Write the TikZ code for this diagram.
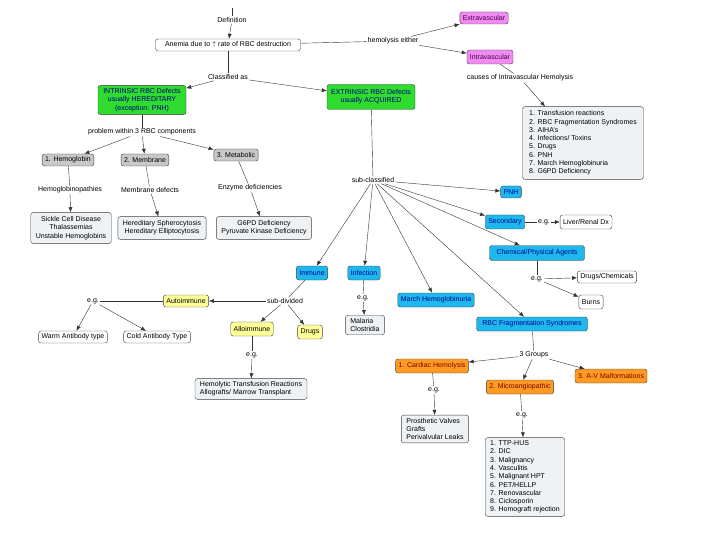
\documentclass[tikz,border=0pt]{standalone}
\usepackage{fontspec}
\setmainfont{Liberation Sans}
\usepackage{xcolor}
\usetikzlibrary{arrows.meta, positioning}

\definecolor{violetfill}{HTML}{F08CF0}
\definecolor{greenfill}{HTML}{2EDB2E}
\definecolor{cyanfill}{HTML}{1EB8EC}
\definecolor{grayfill}{HTML}{C8C8C8}
\definecolor{yellowfill}{HTML}{FFFF99}
\definecolor{orangefill}{HTML}{FF9A22}
\definecolor{listfill}{HTML}{EEF2F5}

\begin{document}
\begin{tikzpicture}[x=1pt, y=-1pt,
  box/.style={draw=black!75, rounded corners=2.5pt, font=\fontsize{7}{8.3}\selectfont, inner xsep=3pt, inner ysep=2pt, minimum height=12pt, align=center, fill=white},
  listbox/.style={box, fill=listfill, align=left, inner xsep=5pt, inner ysep=4pt},
  violetbox/.style={box, fill=violetfill, text=violet!60!black},
  greenbox/.style={box, fill=greenfill, text=blue!50!black, inner ysep=3pt},
  cyanbox/.style={box, fill=cyanfill, text=blue!60!black},
  graybox/.style={box, fill=grayfill},
  yellowbox/.style={box, fill=yellowfill},
  orangebox/.style={box, fill=orangefill, text=red!50!black},
  link/.style={font=\fontsize{7}{8.3}\selectfont, inner sep=1pt, fill=white},
  line/.style={black!80, thin},
  arrow/.style={black!80, thin, -{Latex[length=5pt, width=4pt]}}
]
\useasboundingbox (0,0) rectangle (720,540);

% top
\coordinate (title) at (232,8);
\node[link] (defn) at (232,20) {Definition};
\node[box, minimum width=145pt] (anemia) at (228,45) {Anemia due to $\uparrow$ rate of RBC destruction};
\node[link] (hemo) at (393,41) {hemolysis either};
\node[violetbox] (extra) at (484,18) {Extravascular};
\node[violetbox, minimum height=14pt] (intra) at (490,57) {Intravascular};
\node[link] (causes) at (520,78) {causes of Intravascular Hemolysis};
\node[listbox, minimum width=121pt] (intralist) at (583,143) {1. Transfusion reactions\\2. RBC Fragmentation Syndromes\\3. AIHA's\\4. Infections/ Toxins\\5. Drugs\\6. PNH\\7. March Hemoglobinuria\\8. G6PD Deficiency};

\draw[line] (title) -- (defn);
\draw[arrow] (defn) -- (anemia);
\draw[line] (anemia) -- (hemo);
\draw[arrow] (hemo) -- (extra);
\draw[arrow] (hemo) -- (intra);
\draw[line] (intra) -- (causes);
\draw[arrow] (causes) -- (intralist.north west -| 545,0);

% intrinsic
\node[link] (classified) at (228,77) {Classified as};
\node[greenbox, minimum width=88pt] (intrinsic) at (142,100) {INTRINSIC RBC Defects\\usually HEREDITARY\\(exception: PNH)};
\node[greenbox, minimum width=88pt, minimum height=25pt] (extrinsic) at (371,97) {EXTRINSIC RBC Defects\\usually ACQUIRED};
\node[link] (problem) at (142,132) {problem within 3 RBC components};
\node[graybox] (hb) at (68,160) {1. Hemoglobin};
\node[graybox] (mem) at (145,160) {2. Membrane};
\node[graybox] (met) at (236,155) {3. Metabolic};
\node[link] (hbpath) at (70,190) {Hemoglobinopathies};
\node[link] (memdef) at (150,190) {Membrane defects};
\node[link] (enz) at (250,188) {Enzyme deficiencies};
\node[listbox, align=center] (hblist) at (71,228) {Sickle Cell Disease\\Thalassemias\\Unstable Hemoglobins};
\node[listbox, align=center] (memlist) at (162,228) {Hereditary Spherocytosis\\Hereditary Elliptocytosis};
\node[listbox, align=center] (metlist) at (264,228) {G6PD Deficiency\\Pyruvate Kinase Deficiency};

\draw[line] (anemia) -- (classified);
\draw[arrow] (classified) -- (intrinsic);
\draw[arrow] (classified) -- (extrinsic);
\draw[line] (intrinsic) -- (problem);
\draw[arrow] (problem) -- (hb);
\draw[arrow] (problem) -- (mem);
\draw[arrow] (problem) -- (met);
\draw[line] (hb) -- (hbpath);
\draw[arrow] (hbpath) -- (hblist);
\draw[line] (mem) -- (memdef);
\draw[arrow] (memdef) -- (memlist);
\draw[line] (met) -- (enz);
\draw[arrow] (enz) -- (metlist);

% extrinsic
\node[link] (subcl) at (373,180) {sub-classified};
\node[cyanbox] (pnh) at (511,192) {PNH};
\node[cyanbox, minimum height=14pt] (second) at (505,222) {Secondary};
\node[link] (eg1) at (544,222) {e.g.};
\node[box, minimum height=14pt] (liver) at (586,222) {Liver/Renal Dx};
\node[cyanbox, minimum height=15pt, minimum width=95pt] (chem) at (537,253) {Chemical/Physical Agents};
\node[link] (eg2) at (537,279) {e.g.};
\node[box] (drugchem) at (607,277) {Drugs/Chemicals};
\node[box, minimum height=14pt] (burns) at (591,302) {Burns};
\node[cyanbox, minimum height=14pt] (immune) at (312,273) {Immune};
\node[cyanbox, minimum height=14pt] (infect) at (364,273) {Infection};
\node[cyanbox, minimum height=14pt] (march) at (436,300) {March Hemoglobinuria};
\node[cyanbox, minimum height=14pt, minimum width=111pt] (rbcfrag) at (532,324) {RBC Fragmentation Syndromes};
\node[link] (eg3) at (363,298) {e.g.};
\node[listbox, inner ysep=3pt] (malaria) at (365,325) {Malaria\\Clostridia};

\draw[line] (extrinsic) -- (subcl);
\draw[arrow] (subcl) -- (pnh);
\draw[arrow] (subcl) -- (second);
\draw[arrow] (subcl) -- (chem);
\draw[arrow] (subcl) -- (immune);
\draw[arrow] (subcl) -- (infect);
\draw[arrow] (subcl) -- (march);
\draw[arrow] (subcl) -- (rbcfrag);
\draw[line] (second) -- (eg1);
\draw[arrow] (eg1) -- (liver);
\draw[line] (chem) -- (eg2);
\draw[arrow] (eg2) -- (drugchem);
\draw[arrow] (eg2) -- (burns);
\draw[line] (infect) -- (eg3);
\draw[arrow] (eg3) -- (malaria);

% immune
\node[link] (subdiv) at (285,301) {sub-divided};
\node[yellowbox] (autoimm) at (186,301) {Autoimmune};
\node[yellowbox, minimum height=14pt] (alloimm) at (252,329) {Alloimmune};
\node[yellowbox, minimum height=14pt] (drugs) at (310,332) {Drugs};
\node[link] (eg4) at (93,301) {e.g.};
\node[box] (warm) at (73,337) {Warm Antibody type};
\node[box] (cold) at (157,337) {Cold Antibody Type};
\node[link] (eg5) at (252,355) {e.g.};
\node[listbox, inner ysep=3pt] (htr) at (251,389) {Hemolytic Transfusion Reactions\\Allografts/ Marrow Transplant};

\draw[line] (immune) -- (subdiv);
\draw[arrow] (subdiv) -- (autoimm);
\draw[arrow] (subdiv) -- (alloimm);
\draw[arrow] (subdiv) -- (drugs);
\draw[line] (autoimm) -- (eg4);
\draw[arrow] (eg4) -- (warm);
\draw[arrow] (eg4) -- (cold);
\draw[line] (alloimm) -- (eg5);
\draw[arrow] (eg5) -- (htr);

% fragmentation
\node[link] (groups) at (534,355) {3 Groups};
\node[orangebox, minimum height=14pt] (cardiac) at (432,366) {1. Cardiac Hemolysis};
\node[orangebox, minimum height=14pt] (micro) at (520,387) {2. Microangiopathic};
\node[orangebox, minimum height=14pt] (av) at (611,376) {3. A-V Malformations};
\node[link] (eg6) at (434,390) {e.g.};
\node[listbox, inner ysep=3pt] (prost) at (435,429) {Prosthetic Valves\\Grafts\\Perivalvular Leaks};
\node[link] (eg7) at (522,415) {e.g.};
\node[listbox, inner ysep=3pt] (microlist) at (525,477) {1. TTP-HUS\\2. DIC\\3. Malignancy\\4. Vasculitis\\5. Malignant HPT\\6. PET/HELLP\\7. Renovascular\\8. Ciclosporin\\9. Homograft rejection};

\draw[line] (rbcfrag) -- (groups);
\draw[arrow] (groups) -- (cardiac);
\draw[arrow] (groups) -- (micro);
\draw[arrow] (groups) -- (av);
\draw[line] (cardiac) -- (eg6);
\draw[arrow] (eg6) -- (prost);
\draw[line] (micro) -- (eg7);
\draw[arrow] (eg7) -- (microlist);
\end{tikzpicture}
\end{document}
